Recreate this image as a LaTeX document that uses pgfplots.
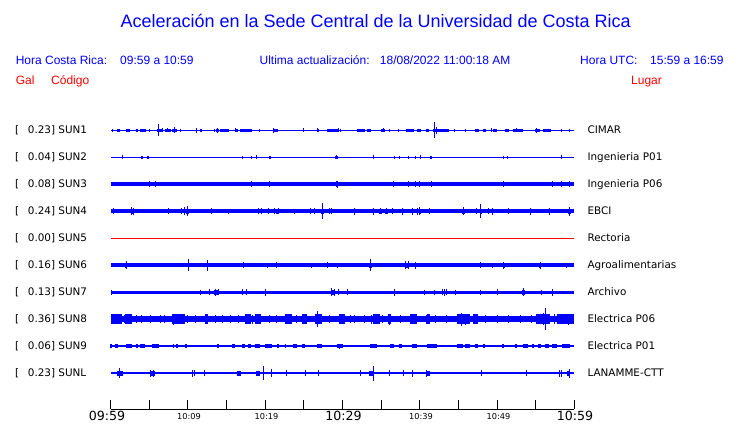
\documentclass[border=0pt]{standalone}
\usepackage{pgfplots}
\pgfplotsset{compat=1.18}
\usepackage{pgfplotstable}
\usepackage{fontspec}
\setmainfont{Liberation Sans}
\newfontfamily\dv{DejaVu Sans}
\definecolor{pblue}{RGB}{0,0,255}
\definecolor{pred}{RGB}{255,0,0}

\pgfplotsset{
  seg/.style={draw=none, mark=none, error bars/.cd, x dir=both, x explicit, error mark=none, error bar style={draw=pblue, line width=#1}},
  spk/.style={draw=none, mark=none, error bars/.cd, y dir=both, y explicit, error mark=none, error bar style={draw=pblue, line width=1pt}},
}
% t = minutes after 09:59, dt = half length (min), h = half amplitude (px)
\pgfplotstableread{
t dt
0.95 0.13
2.28 0.26
3.36 0.13
4.18 0.35
6.27 0.33
7.42 0.39
8.28 0.30
11.68 0.18
13.85 0.17
14.75 0.56
16.26 0.17
17.47 0.78
21.37 0.32
26.83 0.13
28.70 0.75
32.37 0.54
33.39 0.26
35.28 0.26
38.74 0.52
39.86 0.26
41.03 0.22
42.80 1.03
47.43 0.28
48.40 0.17
49.65 0.22
51.25 0.26
52.77 0.65
55.27 0.30
56.48 0.47
}\sAseg
\pgfplotstableread{
t h
0.20 1.5
1.20 1.5
5.04 1.5
6.17 5.7
6.70 2.0
7.37 2.0
8.24 3.3
8.97 1.5
11.13 2.5
13.41 1.5
13.85 2.5
16.10 2.0
19.20 1.5
21.13 2.5
24.98 2.0
26.80 2.0
29.46 2.0
29.68 1.5
35.30 2.2
36.06 1.5
37.23 1.5
41.93 7.8
42.20 3.5
44.43 1.5
45.98 1.5
49.31 2.0
49.96 1.5
52.55 2.0
55.14 2.5
58.37 1.5
59.36 1.5
}\sAspk
\pgfplotstableread{
t dt
4.00 0.12
4.79 0.13
20.60 0.15
29.25 0.20
41.45 0.15
}\sBseg
\pgfplotstableread{
t h
1.50 2.0
17.00 1.5
18.24 1.5
18.90 2.0
29.25 2.0
33.97 2.0
36.70 1.5
37.40 1.5
38.50 1.5
39.50 1.5
40.10 2.0
50.80 1.5
51.30 1.5
58.40 2.0
}\sBspk
\pgfplotstableread{
t dt
29.30 0.15
}\sCseg
\pgfplotstableread{
t h
5.00 3.0
5.74 3.0
18.24 2.8
20.60 3.0
29.30 3.5
36.60 2.8
38.50 2.8
39.50 2.8
40.00 2.8
41.50 3.0
50.80 2.8
57.20 2.8
58.40 2.8
59.36 2.8
}\sCspk
\pgfplotstableread{
t dt
2.85 0.2
9.95 0.2
21.5 0.15
27.4 0.15
34.9 0.15
35.75 0.2
40.0 0.15
45.7 0.2
47.9 0.15
59.35 0.2
}\sDseg
\pgfplotstableread{
t h
0.35 3.0
2.70 4.0
3.00 3.5
7.46 3.0
9.18 3.0
9.60 4.0
10.00 5.0
13.00 3.0
15.30 2.5
19.10 3.0
19.50 3.0
20.40 3.0
21.26 3.0
21.70 3.0
23.85 2.5
25.80 3.0
26.40 3.0
27.40 8.3
28.30 3.0
28.60 3.0
31.60 3.5
34.00 3.5
34.90 3.0
35.70 3.0
36.50 3.0
37.70 3.5
39.00 3.5
39.70 3.5
40.00 4.0
41.30 3.0
45.70 4.0
47.40 3.0
47.90 7.3
48.90 3.0
49.40 3.5
51.50 3.0
54.30 3.5
56.80 3.5
59.40 4.5
}\sDspk
\pgfplotstableread{
t dt
2.0 0.15
33.6 0.2
38.35 0.25
50.9 0.15
55.6 0.15
}\sFseg
\pgfplotstableread{
t h
2.00 4.0
10.05 6.2
12.50 5.5
17.20 3.0
20.30 2.5
21.50 3.0
26.00 2.5
28.10 3.0
29.30 2.5
33.60 5.8
38.20 4.0
38.50 4.0
39.50 3.5
47.80 3.0
49.40 2.5
50.90 3.5
55.60 3.5
59.00 2.5
}\sFspk
\pgfplotstableread{
t dt
0.1 0.1
13.7 0.3
28.7 0.2
53.4 0.2
}\sGseg
\pgfplotstableread{
t h
11.60 2.5
12.85 3.0
13.50 3.5
13.90 3.0
17.00 3.0
17.60 3.0
19.97 3.5
28.60 4.3
28.90 3.5
29.50 3.0
30.60 3.0
36.70 3.5
40.60 2.5
41.90 2.5
42.90 3.0
43.20 3.5
43.50 3.0
44.60 2.5
47.80 2.5
50.00 3.0
53.40 4.3
55.80 2.5
57.20 3.5
}\sGspk
\pgfplotstableread{
t dt
0.75 0.65
2.30 0.40
8.75 0.85
12.40 0.20
17.80 0.40
19.10 0.40
23.00 0.40
25.05 0.35
26.85 0.45
29.90 0.40
34.45 0.45
36.10 0.15
39.25 0.45
41.10 0.20
45.65 0.85
47.25 0.35
56.00 0.90
58.80 1.10
}\sHseg
\pgfplotstableread{
t h
0.60 4.5
1.20 4.0
1.80 4.0
2.45 5.0
3.30 4.0
4.00 4.0
5.20 4.0
6.50 4.0
7.00 4.0
8.10 5.5
8.90 5.0
10.00 4.0
11.00 4.0
12.40 5.0
13.50 4.0
14.50 4.0
15.50 4.0
16.50 4.0
17.60 5.0
18.40 4.5
19.00 4.5
20.50 4.0
21.50 4.0
22.80 4.5
23.20 5.0
24.00 4.0
25.00 5.0
26.80 8.0
27.30 5.0
28.30 4.0
29.80 5.0
31.00 4.0
31.50 4.0
32.80 4.0
33.80 4.5
35.20 4.0
36.10 5.5
37.50 4.0
38.90 5.0
39.50 4.5
40.90 4.5
42.00 4.0
43.50 4.0
45.40 6.5
45.90 5.5
47.00 5.0
48.50 4.0
50.00 4.0
51.50 4.0
53.00 4.0
54.50 4.0
55.30 5.0
56.00 6.0
56.30 11.0
57.50 5.0
58.60 5.0
59.30 5.5
}\sHspk
\pgfplotstableread{
t dt
0.05 0.1
0.75 0.2
2.40 0.4
3.35 0.12
4.10 0.28
5.80 0.47
8.10 0.1
8.60 0.15
9.70 0.12
13.85 0.1
15.90 0.2
17.20 0.2
18.00 0.2
19.00 0.28
20.45 0.45
21.70 0.12
22.60 0.1
23.85 0.2
24.95 0.25
27.00 0.3
29.65 0.42
33.95 0.45
36.40 0.25
37.50 0.15
39.30 0.35
41.55 0.65
45.20 0.38
46.20 0.3
47.40 0.2
48.30 0.12
50.80 0.1
52.40 0.1
53.70 0.28
54.60 0.1
55.45 0.2
56.45 0.3
57.40 0.3
58.95 0.55
}\sIseg
\pgfplotstableread{
t h
29.65 2.5
58.95 2.0
}\sIspk
\pgfplotstableread{
t dt
1.20 0.40
5.40 0.30
16.60 0.30
19.05 0.25
33.70 0.30
41.10 0.20
59.30 0.2
}\sLseg
\pgfplotstableread{
t h
1.20 5.0
5.20 3.5
5.60 3.5
10.60 3.5
10.90 3.0
12.20 3.0
19.75 7.3
20.80 4.0
22.70 3.0
25.20 3.0
26.90 3.0
32.30 3.0
34.00 7.5
36.10 3.0
37.90 3.0
39.00 3.5
40.90 3.5
48.00 3.0
53.80 3.0
58.10 3.5
58.30 3.5
59.40 4.5
}\sLspk

\newcommand\trace[5]{%
  \addplot[pblue, line width=#2] coordinates {(0,#1) (60,#1)};
  \addplot[seg=#3] table[x=t, y expr=#1, x error=dt] {#4};
  \addplot[spk] table[x=t, y expr=#1, y error=h] {#5};
}

\begin{document}
\begin{tikzpicture}
\begin{axis}[
  scale only axis, width=740pt, height=423pt,
  xmin=-14.327, xmax=81.446, ymin=0, ymax=423, y dir=reverse,
  hide axis, clip=false]
\trace{130}{1pt}{3pt}{\sAseg}{\sAspk}
\trace{157}{1pt}{3pt}{\sBseg}{\sBspk}
\trace{184}{3.8pt}{6pt}{\sCseg}{\sCspk}
\trace{211}{3.3pt}{5pt}{\sDseg}{\sDspk}
\addplot[pred, line width=1pt] coordinates {(0,238) (60,238)};
\trace{265}{3.7pt}{5pt}{\sFseg}{\sFspk}
\trace{292}{3pt}{5pt}{\sGseg}{\sGspk}
\trace{319}{6pt}{9.5pt}{\sHseg}{\sHspk}
\trace{346}{1.3pt}{3.3pt}{\sIseg}{\sIspk}
\trace{373}{2.8pt}{5pt}{\sLseg}{\sLspk}
\end{axis}
\begin{scope}[shift={(current axis.north west)}, x=1pt, y=-1pt]
  \node[anchor=base west, inner sep=0, text=pblue, font=\fontsize{18}{20}\selectfont] at (120.3,28) {Aceleración en la Sede Central de la Universidad de Costa Rica};
  \begin{scope}[every node/.style={anchor=base west, inner sep=0, font=\fontsize{12}{14}\selectfont}]
    \node[text=pblue] at (15.6,64.3) {Hora Costa Rica:};
    \node[text=pblue] at (120,64.3) {09:59 a 10:59};
    \node[text=pblue] at (259.4,64.3) {Ultima actualización:};
    \node[text=pblue] at (379.7,64.3) {18/08/2022 11:00:18 AM};
    \node[text=pblue] at (580,64.3) {Hora UTC:};
    \node[text=pblue] at (650,64.3) {15:59 a 16:59};
    \node[text=pred] at (15.6,84.3) {Gal};
    \node[text=pred] at (51,84.3) {Código};
    \node[text=pred] at (631,84.3) {Lugar};
  \end{scope}
  \begin{scope}[every node/.style={anchor=base west, inner sep=0, font=\dv\fontsize{10.4}{12}\selectfont}]
    \foreach \y/\v/\c/\l in {130/0.23/SUN1/CIMAR, 157/0.04/SUN2/Ingenieria P01, 184/0.08/SUN3/Ingenieria P06, 211/0.24/SUN4/EBCI, 238/0.00/SUN5/Rectoria, 265/0.16/SUN6/Agroalimentarias, 292/0.13/SUN7/Archivo, 319/0.36/SUN8/Electrica P06, 346/0.06/SUN9/Electrica P01, 373/0.23/SUNL/LANAMME-CTT}{
      \node at (15,\y+3.8) {[};
      \node at (27.7,\y+3.8) {\v] \c};
      \node at (587.3,\y+3.8) {\l};
    }
  \end{scope}
  \draw[line width=1pt] (110.7,409) -- (574.3,409);
  \foreach \k in {0,...,12} \draw[line width=1pt] ({110.7+\k*38.633},400) -- ++(0,9);
  \begin{scope}[every node/.style={anchor=base, inner sep=0, font=\dv\fontsize{12.6}{14}\selectfont}]
    \node at (107,420.8) {09:59};
    \node at (343.5,420.8) {10:29};
    \node at (575,420.8) {10:59};
  \end{scope}
  \begin{scope}[every node/.style={anchor=base, inner sep=0, font=\dv\fontsize{8.2}{10}\selectfont}]
    \node at (189,419.3) {10:09};
    \node at (266.5,419.3) {10:19};
    \node at (421,419.3) {10:39};
    \node at (498.5,419.3) {10:49};
  \end{scope}
\end{scope}
\pgfresetboundingbox
\path (current axis.south west) rectangle (current axis.north east);
\end{tikzpicture}
\end{document}
